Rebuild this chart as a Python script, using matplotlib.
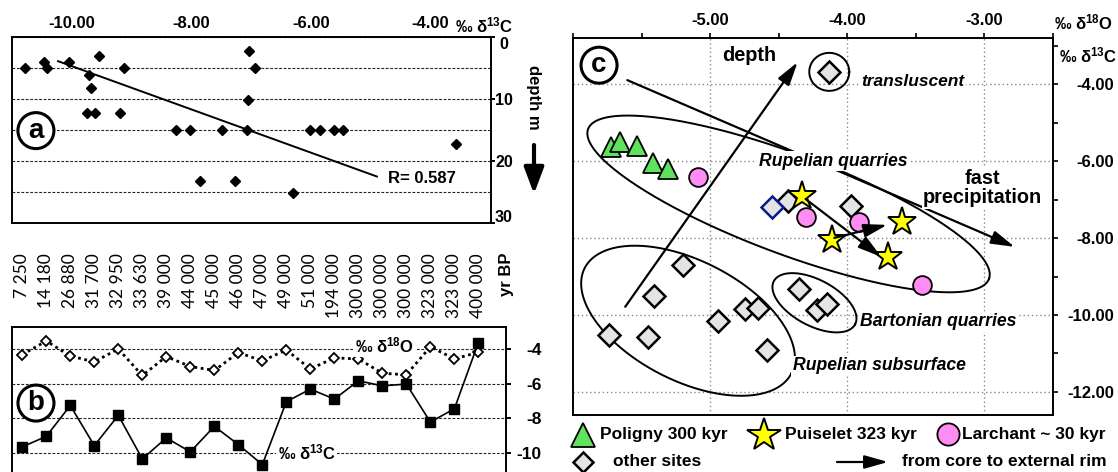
import numpy as np
import matplotlib
matplotlib.use('Agg')
import matplotlib.pyplot as plt
from matplotlib import transforms

plt.rcParams['font.family'] = ['Liberation Sans', 'DejaVu Sans']
plt.rcParams['font.weight'] = 'bold'
plt.rcParams['mathtext.fontset'] = 'custom'
plt.rcParams['mathtext.rm'] = 'Liberation Sans:bold'
plt.rcParams['mathtext.it'] = 'Liberation Sans:italic:bold'
plt.rcParams['mathtext.bf'] = 'Liberation Sans:bold'
plt.rcParams['mathtext.default'] = 'rm'
plt.rcParams['axes.linewidth'] = 1.4

# ---- panel a : d13C against depth ----
a_d13c = [-10.79, -10.47, -10.41, -10.04, -9.55, -9.71, -9.68, -9.75, -9.61, -9.13, -9.20,
          -7.04, -6.93, -7.06, -7.07, -8.26, -8.03, -7.49, -7.85, -7.28, -6.31,
          -6.02, -5.85, -5.62, -5.46, -3.58]
a_depth = [5, 4.1, 5, 4.1, 3.1, 6.2, 8.2, 12.2, 12.2, 5, 12.2,
           2.2, 5, 10.2, 15, 15, 15, 15, 23.2, 23.2, 25.2,
           15, 15, 15, 15, 17.2]
reg_x = [-10.23, -4.90]
reg_y = [3.9, 22.5]
r_text = 'R= 0.587'

# ---- panel b : time series ----
years = ['7 250', '14 180', '26 880', '31 700', '32 950', '33 630', '39 000', '44 000',
         '45 000', '46 000', '47 000', '49 000', '51 000', '194 000', '300 000', '300 000',
         '300 000', '323 000', '323 000', '400 000']
b_d13c = [-9.66, -9.05, -7.26, -9.59, -7.83, -10.36, -9.14, -9.95, -8.47, -9.53,
          -10.69, -7.04, -6.31, -6.89, -5.83, -6.12, -6.02, -8.22, -7.45, -3.61]
b_d18o = [-4.31, -3.52, -4.39, -4.73, -3.98, -5.52, -4.42, -5.00, -5.23, -4.19,
          -4.67, -4.04, -5.14, -4.50, -4.56, -5.39, -5.48, -3.85, -4.56, -4.17]

# ---- panel c : d18O / d13C cross plot ----
poligny_o = [-5.725, -5.657, -5.536, -5.418, -5.309]
poligny_c = [-5.63, -5.51, -5.60, -6.04, -6.21]
puiselet_o = [-4.331, -3.602, -4.113, -3.699]
puiselet_c = [-6.90, -7.57, -8.04, -8.48]
larchant_o = [-5.091, -4.299, -3.917, -3.452]
larchant_c = [-6.40, -7.46, -7.57, -9.23]
other_o = [-4.131, -4.433, -3.972, -5.195, -5.408, -5.735, -5.450, -4.941, -4.747,
           -4.651, -4.585, -4.355, -4.222, -4.150]
other_c = [-3.67, -7.03, -7.16, -8.69, -9.50, -10.53, -10.58, -10.15, -9.84,
           -9.82, -10.90, -9.33, -9.86, -9.71]
blue_o = [-4.546]
blue_c = [-7.18]

W, H = 1118, 472
fig = plt.figure(figsize=(W / 100, H / 100), dpi=100)


def box(l, t, r, b):
    return [l / W, 1 - b / H, (r - l) / W, (b - t) / H]


def circled(ax, x, y, s):
    ax.text(x, y, s, fontsize=20, ha='center', va='center', zorder=6,
            bbox=dict(boxstyle='circle,pad=0.18', fc='white', ec='black', lw=2.2))


grid_dash = dict(color='#222222', lw=0.8, ls=(0, (2.5, 1.5)))

# ================= panel a =================
ax = fig.add_axes(box(12, 37, 490.5, 223))
ax.plot(a_d13c, a_depth, 'D', color='black', ms=5, zorder=3)
ax.plot(reg_x, reg_y, color='black', lw=1.4, zorder=2)
ax.set_xlim(-11, -3)
ax.set_ylim(30, 0)
ax.xaxis.tick_top()
ax.set_xticks([-10, -8, -6, -4])
ax.set_xticklabels(['-10.00', '-8.00', '-6.00', '-4.00'])
ax.tick_params(axis='x', length=0, pad=4, labelsize=12)
ax.yaxis.tick_right()
ax.set_yticks([0, 10, 20, 30])
ax.set_yticks([5, 15, 25], minor=True)
ax.tick_params(axis='y', which='major', length=2.9, width=1.4, pad=6.8, labelsize=11.5)
ax.tick_params(axis='y', which='minor', length=0)
ylabs = ax.get_yticklabels()
plt.setp(ylabs, ha='center')
# the end labels sit a little inside the frame
ylabs[0].set_transform(ylabs[0].get_transform() +
                       transforms.ScaledTranslation(0, -0.06, fig.dpi_scale_trans))
ylabs[-1].set_transform(ylabs[-1].get_transform() +
                        transforms.ScaledTranslation(0, 0.07, fig.dpi_scale_trans))
ax.yaxis.grid(True, which='both', **grid_dash)
ax.text(-4.72, 22.9, r_text, fontsize=12, va='center', ha='left')
circled(ax, -10.6, 15.1, 'a')

# ================= panel b =================
axb = fig.add_axes(box(11.8, 326.7, 506, 487.2))
idx = np.arange(len(years))
axb.plot(idx, b_d18o, color='black', lw=2.0, ls=(0, (1, 1.3)), marker='D', ms=5,
         mfc='white', mec='black', mew=1.3, zorder=3)
axb.plot(idx, b_d13c, color='black', lw=1.2, marker='s', ms=6.5, zorder=3)
axb.set_xlim(-0.437, 20.15)
axb.set_ylim(-12, -2.69)
axb.set_xticks([])
axb.yaxis.tick_right()
axb.set_yticks([-4, -6, -8, -10])
axb.set_yticklabels(['-4', '-6', '-8', '-10'])
axb.tick_params(axis='y', length=3.6, width=1.4, pad=22.3, labelsize=12.5)
plt.setp(axb.get_yticklabels(), ha='right')
axb.yaxis.grid(True, **grid_dash)
axb.text(15.1, -3.77, '‰ δ$^{18}$O', fontsize=12, ha='center', va='center', zorder=5,
         bbox=dict(fc='white', ec='none', pad=1))
axb.text(11.85, -10.0, '‰ δ$^{13}$C', fontsize=12, ha='center', va='center', zorder=5,
         bbox=dict(fc='white', ec='none', pad=1))
circled(axb, 0.57, -7.12, 'b')

# ================= panel c =================
axc = fig.add_axes(box(573, 38.3, 1052.9, 415))
axc.set_xlim(-6, -2.5)
axc.set_ylim(-12.6, -2.8)
axc.xaxis.tick_top()
axc.set_xticks([-5, -4, -3])
axc.set_xticklabels(['-5.00', '-4.00', '-3.00'])
axc.set_xticks(np.arange(-6, -2.4, 0.5), minor=True)
axc.yaxis.tick_right()
axc.set_yticks([-4, -6, -8, -10, -12])
axc.set_yticklabels(['-4.00', '-6.00', '-8.00', '-10.00', '-12.00'])
axc.set_yticks(np.arange(-11, -2.9, 2), minor=True)
axc.tick_params(axis='both', which='both', length=3.6, width=1.2)
axc.tick_params(axis='x', which='major', pad=4, labelsize=12)
axc.tick_params(axis='y', which='major', pad=40.5, labelsize=12)
plt.setp(axc.get_yticklabels(), ha='right')
axc.grid(True, which='major', color='#8a8a8a', lw=1.0, ls=(0, (1, 2)))


def ellipse(cx, cy, a, b, ang):
    # a, b in pixels, drawn around a data centre
    t = np.linspace(0, 2 * np.pi, 300)
    c0 = axc.transData.transform((cx, cy))
    th = np.deg2rad(ang)
    px = c0[0] + a * np.cos(t) * np.cos(th) - b * np.sin(t) * np.sin(th)
    py = c0[1] + a * np.cos(t) * np.sin(th) + b * np.sin(t) * np.cos(th)
    pts = axc.transData.inverted().transform(np.column_stack([px, py]))
    axc.plot(pts[:, 0], pts[:, 1], color='black', lw=1.4, zorder=2)


ellipse(-4.428, -7.109, 214, 50, -20.5)
ellipse(-5.161, -10.148, 116, 60, -27)
ellipse(-4.239, -9.68, 46, 23, -28)
ellipse(-4.131, -3.673, 20, 19, 0)


def arrow(x0, y0, x1, y1, z=2.5):
    axc.annotate('', xy=(x1, y1), xytext=(x0, y0), zorder=z,
                 arrowprops=dict(arrowstyle='-|>,head_length=0.95,head_width=0.27',
                                 mutation_scale=15, lw=1.6, color='black',
                                 shrinkA=0, shrinkB=0))


arrow(-5.619, -9.784, -4.362, -3.421)
arrow(-5.604, -3.888, -2.779, -8.226)
arrow(-4.304, -6.979, -3.752, -8.486, z=4)
arrow(-4.094, -7.992, -3.709, -7.654, z=4)

axc.plot(other_o, other_c, 'D', ms=11, mfc='#e4e4e4', mec='black', mew=1.8, zorder=3)
axc.plot(blue_o, blue_c, 'D', ms=11, mfc='#e4e4e4', mec='#0a1a8c', mew=1.8, zorder=3)
axc.plot(poligny_o, poligny_c, '^', ms=15, mfc='#5fe35f', mec='black', mew=1.3, zorder=3)
axc.plot(larchant_o, larchant_c, 'o', ms=13.5, mfc='#ff8cf2', mec='black', mew=1.3, zorder=3)
axc.plot(puiselet_o, puiselet_c, '*', ms=21, mfc='#ffff00', mec='black', mew=1.4, zorder=3)

wb = dict(fc='white', ec='none', pad=1)
axc.text(-4.714, -3.237, 'depth', fontsize=14.3, ha='center', va='center', zorder=5, bbox=wb)
axc.text(-3.52, -3.93, 'transluscent', fontsize=12.5, style='italic', ha='center',
         va='center', zorder=5, bbox=wb)
axc.text(-4.104, -6.0, 'Rupelian quarries', fontsize=12.7, style='italic', ha='center',
         va='center', zorder=5, bbox=wb)
axc.text(-3.013, -6.70, 'fast\nprecipitation', fontsize=14.3, ha='center', va='center',
         linespacing=1.0, zorder=5, bbox=wb)
axc.text(-3.338, -10.17, 'Bartonian quarries', fontsize=12.7, style='italic', ha='center',
         va='center', zorder=5, bbox=wb)
axc.text(-3.766, -11.32, 'Rupelian subsurface', fontsize=12.7, style='italic', ha='center',
         va='center', zorder=5, bbox=wb)
circled(axc, -5.81, -3.5, 'c')

# ================= overlay: free labels and legend =================
ov = fig.add_axes([0, 0, 1, 1])
ov.set_xlim(0, W)
ov.set_ylim(H, 0)
ov.axis('off')

ov.text(484, 25, '‰ δ$^{13}$C', fontsize=12, ha='center', va='center')
ov.text(534, 97, 'depth m', fontsize=12, rotation=270, ha='center', va='center')
ov.annotate('', xy=(534, 194), xytext=(534, 145),
            arrowprops=dict(arrowstyle='-|>,head_length=0.8,head_width=0.3',
                            mutation_scale=20, lw=3, color='black', shrinkA=0, shrinkB=0))
ov.text(1084, 22, '‰ δ$^{18}$O', fontsize=12, ha='center', va='center')
ov.text(1059, 55, '‰ δ$^{13}$C', fontsize=12, ha='left', va='center')

tr = transforms.blended_transform_factory(axb.transData, ov.transData)
for i, lab in enumerate(years):
    ov.text(i, 253, lab, transform=tr, rotation=90, ha='center', va='top',
            fontsize=12.5, fontweight='normal', family='Lato')
ov.text(506, 253, 'yr BP', rotation=90, ha='center', va='top', fontsize=12)

# legend
ov.plot([583], [435], '^', ms=17, mfc='#5fe35f', mec='black', mew=1.3)
ov.text(600, 435, 'Poligny 300 kyr', fontsize=12.5, va='center')
ov.plot([764], [435], '*', ms=25, mfc='#ffff00', mec='black', mew=1.4)
ov.text(785, 435, 'Puiselet 323 kyr', fontsize=12.5, va='center')
ov.plot([948], [434], 'o', ms=16, mfc='#ff8cf2', mec='black', mew=1.3)
ov.text(962, 435, 'Larchant ~ 30 kyr', fontsize=12.5, va='center')
ov.plot([583], [462], 'D', ms=10, mfc='#e4e4e4', mec='black', mew=1.8)
ov.text(613, 462, 'other sites', fontsize=12.5, va='center')
ov.annotate('', xy=(888, 462), xytext=(837, 462),
            arrowprops=dict(arrowstyle='-|>,head_length=0.95,head_width=0.27',
                            mutation_scale=15, lw=1.6, color='black', shrinkA=0, shrinkB=0))
ov.text(902, 462, 'from core to external rim', fontsize=12.5, va='center')

fig.savefig('out.png', dpi=100)
